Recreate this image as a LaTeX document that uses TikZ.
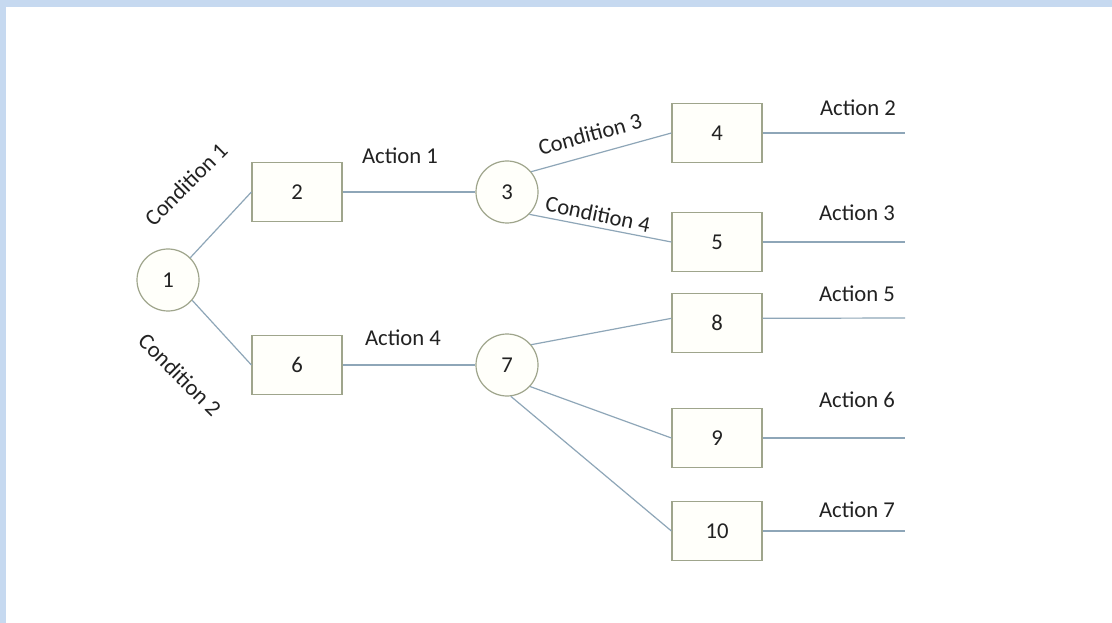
\documentclass[tikz,border=0pt]{standalone}
\usepackage{fontspec}
\setmainfont{Carlito}
\definecolor{frameblue}{HTML}{C6D9F0}
\definecolor{edgegray}{HTML}{9FA58C}
\definecolor{shapefill}{HTML}{FFFFFA}
\definecolor{wire}{HTML}{8EA6B8}
\definecolor{ink}{HTML}{222222}
\begin{document}
\begin{tikzpicture}[x=0.75pt,y=-0.75pt,
  every node/.style={font=\fontsize{17}{19}\selectfont,text=ink},
  chance/.style={circle,draw=edgegray,fill=shapefill,line width=0.9pt,minimum size=46.5pt,inner sep=0pt},
  outcome/.style={rectangle,draw=edgegray,fill=shapefill,line width=0.9pt,minimum width=67.5pt,minimum height=44.5pt,inner sep=0pt},
  link/.style={draw=wire,line width=0.9pt},
  lbl/.style={inner sep=1pt}]
% canvas and tinted frame strips
\fill[white] (0,0) rectangle (1112,623);
\fill[frameblue] (0,0) rectangle (1112,7);
\fill[frameblue] (0,0) rectangle (6,623);
\useasboundingbox (0,0) rectangle (1112,623);

% decision and outcome nodes
\node[chance]  (c1)  at (168,280) {1};
\node[outcome] (b2)  at (297,192) {2};
\node[outcome] (b6)  at (297,365) {6};
\node[chance]  (c3)  at (507,192) {3};
\node[chance]  (c7)  at (507,365) {7};
\node[outcome] (b4)  at (717,133) {4};
\node[outcome] (b5)  at (717,242) {5};
\node[outcome] (b8)  at (717,323) {8};
\node[outcome] (b9)  at (717,438) {9};
\node[outcome] (b10) at (717,531) {10};

% loose ends of the action lines
\coordinate (e4)  at (905,133);
\coordinate (e5)  at (905,242);
\coordinate (e8)  at (905,318);
\coordinate (e9)  at (905,438);
\coordinate (e10) at (905,531);

% connectors
\draw[link] (c1.45)  -- (b2.west);
\draw[link] (c1.-40) -- (b6.west);
\draw[link] (b2.east) -- (c3.west);
\draw[link] (b6.east) -- (c7.west);
\draw[link] (c3.40)  -- (b4.west);
\draw[link] (c3.-45) -- (b5.west);
\draw[link] (c7.40)  -- ([yshift=3.5pt]b8.west);
\draw[link] (c7.-43) -- (b9.west);
\draw[link] (c7.-83) -- (b10.west);
\draw[link] (b4.east) -- (e4);
\draw[link] (b5.east) -- (e5);
\draw[link] ([yshift=3.5pt]b8.east) -- (e8);
\draw[link] (b9.east) -- (e9);
\draw[link] (b10.east) -- (e10);

% branch labels
\node[lbl,rotate=45]  (t1) at (186,184) {Condition 1};
\node[lbl,rotate=-45] (t2) at (180,375) {Condition 2};
\node[lbl,rotate=15]  (t3) at (590,134) {Condition 3};
\node[lbl,rotate=-12] (t4) at (598,214) {Condition 4};
\node[lbl] (a1) at (400,156) {Action 1};
\node[lbl] (a4) at (403,338) {Action 4};
\node[lbl] (a2) at (858,108) {Action 2};
\node[lbl] (a3) at (857,213) {Action 3};
\node[lbl] (a5) at (857,294) {Action 5};
\node[lbl] (a6) at (857,400) {Action 6};
\node[lbl] (a7) at (857,510) {Action 7};
\end{tikzpicture}
\end{document}
